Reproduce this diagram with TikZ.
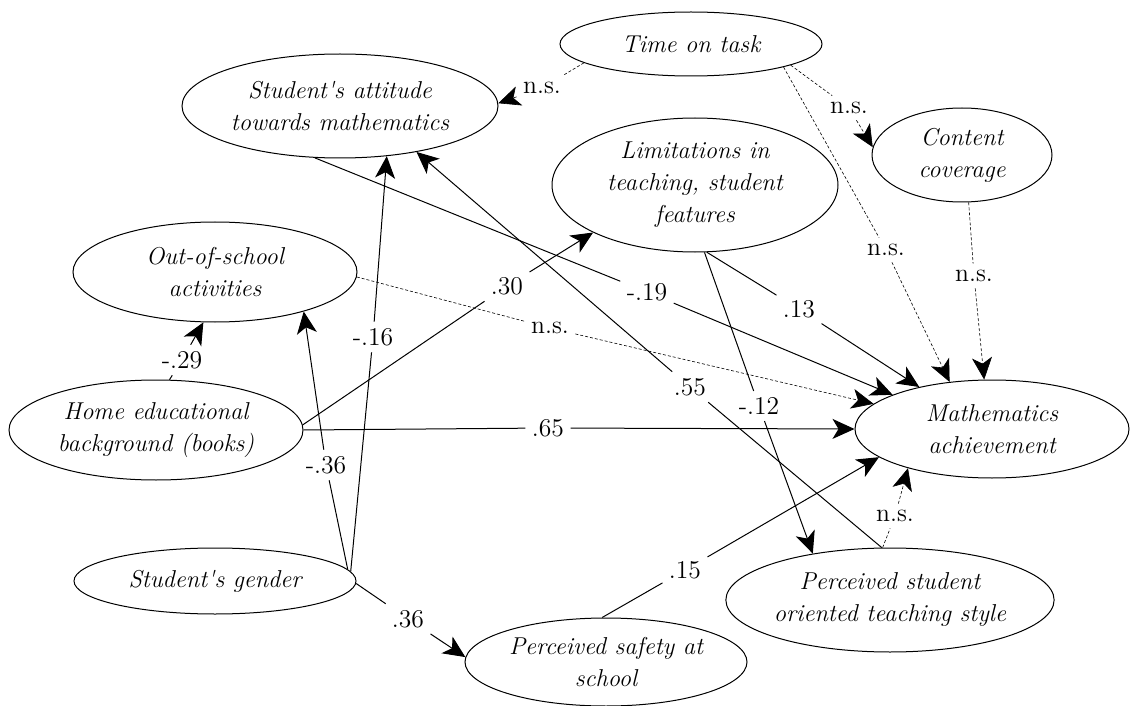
\documentclass[tikz,border=0pt]{standalone}
\usepackage{amsmath}
\usepackage{tikz}
\usetikzlibrary{positioning,arrows.meta,shapes.geometric}
\tikzstyle{var} = [draw=black,ellipse,inner sep=0,align=center,font=\fontsize{12.2}{16}\selectfont\itshape]
\tikzstyle{coef} = [inner sep=3pt,font=\fontsize{12.8}{14}\selectfont]
\tikzstyle{eff} = [-{Stealth[length=11pt,width=10pt,inset=3pt]},line width=0.5pt]
\tikzstyle{ns} = [eff,dash pattern=on 1.5pt off 1pt,line width=0.3pt]

\begin{document}
\begin{tikzpicture}[x=0.5pt,y=-0.5pt,line width=0.5pt]
\useasboundingbox (0,0) rectangle (1131,706);

\node[var, minimum width=131pt, minimum height=32pt] (time) at (691,44) {Time on task};
\node[var, minimum width=158pt, minimum height=52pt] (att) at (340,106) {Student\textquotesingle s attitude\\towards mathematics};
\node[var, minimum width=143pt, minimum height=67pt] (lim) at (695,185) {Limitations in\\teaching, student\\features};
\node[var, minimum width=90pt, minimum height=47pt] (cover) at (962,155) {Content\\coverage};
\node[var, minimum width=142pt, minimum height=50pt] (out) at (215,272) {Out-of-school\\activities};
\node[var, minimum width=147pt, minimum height=50pt] (home) at (156,430) {Home educational\\background (books)};
\node[var, minimum width=141pt, minimum height=33pt] (gender) at (215,581) {Student\textquotesingle s gender};
\node[var, minimum width=141pt, minimum height=44pt] (safe) at (606,662) {Perceived safety at\\school};
\node[var, minimum width=164pt, minimum height=52pt] (pso) at (890,600) {Perceived student\\oriented teaching style};
\node[var, minimum width=137pt, minimum height=49pt] (math) at (992,429) {Mathematics\\achievement};

\node[coef] (l1) at (542,88) {n.s.};
\node[coef] (l2) at (849,108) {n.s.};
\node[coef] (l3) at (886,250) {n.s.};
\node[coef] (l4) at (974,276) {n.s.};
\node[coef] (l5) at (647,292) {-.19};
\node[coef] (l6) at (799,309) {.13};
\node[coef] (l7) at (759,406) {-.12};
\node[coef] (l8) at (550,328) {n.s.};
\node[coef] (l9) at (548,428) {.65};
\node[coef] (l10) at (507,286) {.30};
\node[coef] (l11) at (182,360) {-.29};
\node[coef] (l12) at (326,465) {-.36};
\node[coef] (l13) at (373,337) {-.16};
\node[coef] (l14) at (408,619) {.36};
\node[coef] (l15) at (685,570) {.15};
\node[coef] (l16) at (690,387) {.55};
\node[coef] (l17) at (895,516) {n.s.};

\draw[ns] (time.190) to (l1) to (att.1);
\draw[ns] (time.348) to (l2) to (cover.175);
\draw[ns] (time.346) to (l3) to (math.132);
\draw[ns] (cover.278) to (l4) to (math.99);
\draw[eff] (att.244) to (l5) to (math.161);
\draw[eff] (lim.280) to (l6) to (math.150);
\draw[eff] (lim.278) to (l7) to (pso.149);
\draw[ns] (out.358) to (l8) to (math.168);
\draw[eff] (home.0) to (l9) to (math.180);
\draw[eff] (home.2) to (l10) to (lim.205);
\draw[eff] (home.75) to (l11) to (out.257);
\draw[eff] (gender.5) to (l12) to (out.336);
\draw[eff] (gender.4) to (l13) to (att.313);
\draw[eff] (gender.359) to (l14) to (safe.178);
\draw[eff] (safe.95) to (l15) to (math.194);
\draw[eff] (pso.99) to (l16) to (att.329);
\draw[ns] (pso.98) to (l17) to (math.205);
\end{tikzpicture}
\end{document}
